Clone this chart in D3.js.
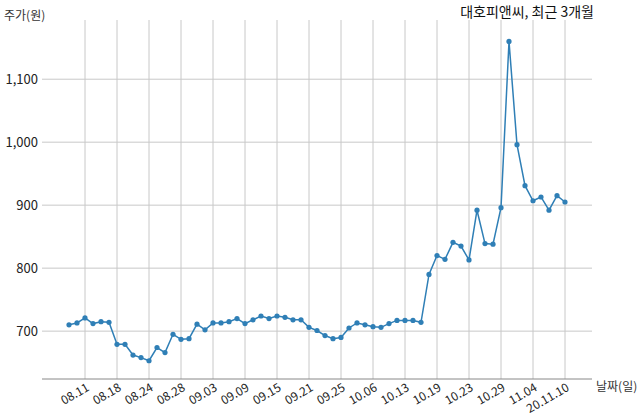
<!DOCTYPE html><html><head><meta charset="utf-8"><script src="https://cdn.jsdelivr.net/npm/d3@7"></script>
<style>body{margin:0;background:#fff}text{font-family:"Noto Sans CJK KR","Noto Sans",sans-serif}</style></head><body>
<svg id="c" width="640" height="419"></svg>
<script>
const prices=[710,713,721,712,715,714,679,679,662,658,653,674,666,695,687,688,711,702,713,713,715,720,712,718,724,720,724,722,718,718,706,701,693,688,690,705,713,710,707,706,712,717,717,717,714,790,820,814,841,835,813,892,839,838,896,1160,996,931,907,913,892,915,905];
const tickLabels=["08.11","08.18","08.24","08.28","09.03","09.09","09.15","09.21","09.25","10.06","10.13","10.19","10.23","10.29","11.04","20.11.10"];
const tickIdx=tickLabels.map((d,i)=>2+4*i);
const yTicks=[700,800,900,1000,1100];
const svg=d3.select("#c");
const L=42,R=592,T=20,B=379;
const x=d3.scaleLinear().domain([0,62]).range([69,565]);
const y=d3.scaleLinear().domain([624,1194]).range([B,T]);
const g=svg.append("g");
g.selectAll(".vg").data(tickIdx).join("line").attr("x1",d=>x(d)).attr("x2",d=>x(d)).attr("y1",T).attr("y2",B).attr("stroke","#c8c8c8");
g.selectAll(".hg").data(yTicks).join("line").attr("x1",L).attr("x2",R).attr("y1",d=>y(d)).attr("y2",d=>y(d)).attr("stroke","#c8c8c8");
g.append("line").attr("x1",L).attr("x2",R).attr("y1",B).attr("y2",B).attr("stroke","#888");
g.selectAll(".yl").data(yTicks).join("text").attr("x",38).attr("y",d=>y(d)+5).attr("text-anchor","end").attr("font-size",13).attr("fill","#222").text(d=>d3.format(",")(d));
g.selectAll(".xl").data(tickIdx).join("text").attr("transform",(d)=>`translate(${x(d)+5},${B+11}) rotate(-30)`).attr("text-anchor","end").attr("font-size",12).attr("fill","#222").text((d,i)=>tickLabels[i]);
const line=d3.line().x((d,i)=>x(i)).y(d=>y(d));
g.append("path").datum(prices).attr("d",line).attr("fill","none").attr("stroke","#2f7fb6").attr("stroke-width",1.5);
g.selectAll(".pt").data(prices).join("circle").attr("cx",(d,i)=>x(i)).attr("cy",d=>y(d)).attr("r",2.6).attr("fill","#2f7fb6");
svg.append("text").attr("x",4).attr("y",20).attr("font-size",12).attr("fill","#333").text("주가(원)");
svg.append("text").attr("x",594).attr("y",17).attr("text-anchor","end").attr("font-size",14).attr("fill","#111").text("대호피앤씨, 최근 3개월");
svg.append("text").attr("x",596).attr("y",391).attr("font-size",12).attr("fill","#333").text("날짜(일)");
</script></body></html>
